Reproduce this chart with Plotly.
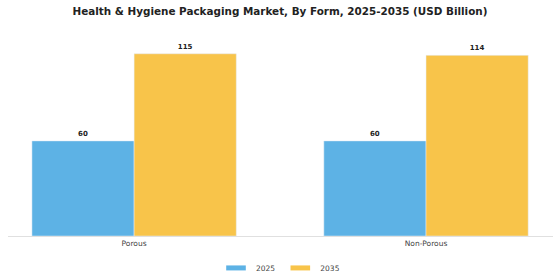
import plotly.graph_objects as go

categories = ["Porous", "Non-Porous"]
series_names = ["2025", "2035"]
values_2025 = [60, 60]
values_2035 = [115, 114]
colors = ["#5DB2E5", "#F8C44A"]

fig = go.Figure()
for name, vals, col in zip(series_names, [values_2025, values_2035], colors):
    fig.add_trace(go.Bar(
        x=categories, y=vals, name=name, marker_color=col,
        text=[str(v) for v in vals], textposition="outside",
        textfont=dict(family="DejaVu Sans", size=7, color="#222"),
        texttemplate="<b>%{text}</b>", cliponaxis=False,
        showlegend=False, legendgroup=name,
    ))
for name, col in zip(series_names, colors):
    fig.add_trace(go.Scatter(
        x=[None], y=[None], mode="markers", name=name, legendgroup=name,
        marker=dict(symbol="line-ew", size=14, color=col, line=dict(width=5, color=col)),
        showlegend=True,
    ))

fig.update_layout(
    width=560, height=280,
    margin=dict(l=8, r=7, t=30, b=44, autoexpand=False),
    paper_bgcolor="white", plot_bgcolor="white",
    barmode="group", bargap=0.3, bargroupgap=0,
    title=dict(text="<b>Health & Hygiene Packaging Market, By Form, 2025-2035 (USD Billion)</b>",
               x=0.5, xanchor="center", y=0.96, yanchor="middle",
               font=dict(family="DejaVu Sans", size=10.4, color="#222")),
    xaxis=dict(range=[-0.432, 1.435], showline=True, linecolor="#e0e0e0", linewidth=1,
               ticks="", tickfont=dict(family="DejaVu Sans", size=7.5, color="#444")),
    yaxis=dict(range=[0, 130], visible=False, showgrid=False),
    legend=dict(orientation="h", x=0.5, xanchor="center", y=-0.155, yanchor="middle",
                font=dict(family="DejaVu Sans", size=7.5, color="#444"),
                itemwidth=30, tracegroupgap=0),
    showlegend=True,
)
fig.write_html("out.html")
